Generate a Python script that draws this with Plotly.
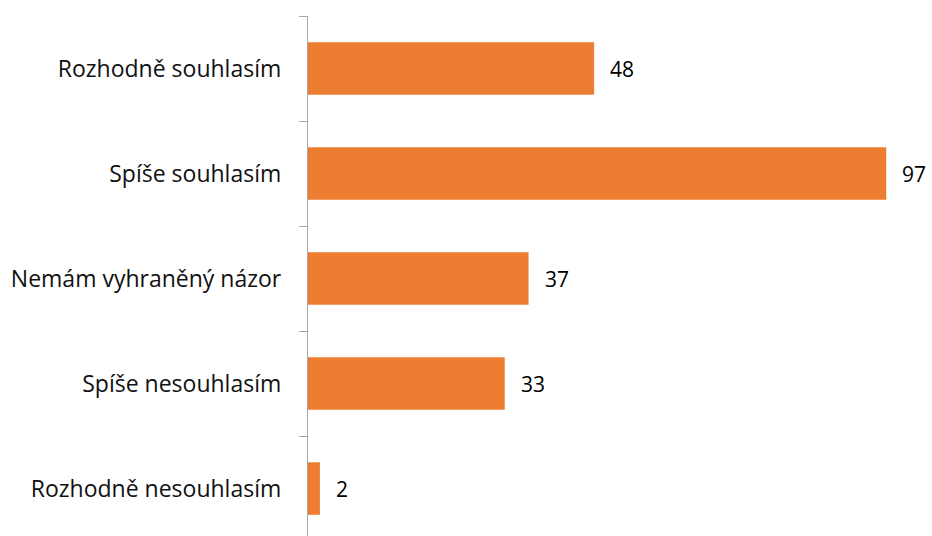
import plotly.graph_objects as go

categories = [
    "Rozhodně souhlasím",
    "Spíše souhlasím",
    "Nemám vyhraněný názor",
    "Spíše nesouhlasím",
    "Rozhodně nesouhlasím",
]
counts = [48, 97, 37, 33, 2]

bar_color = "#ED7D31"
font_family = "Open Sans, Noto Sans, sans-serif"

fig = go.Figure(
    go.Bar(
        y=categories,
        x=counts,
        orientation="h",
        width=0.5,
        marker=dict(color=bar_color, line=dict(width=0)),
        hoverinfo="skip",
    )
)

# value labels to the right of each bar
for cat, val in zip(categories, counts):
    fig.add_annotation(
        x=val, y=cat, text=str(val), showarrow=False,
        xanchor="left", xshift=14,
        font=dict(family=font_family, size=21, color="#000000"),
    )

fig.update_layout(
    width=932, height=536,
    margin=dict(l=308, r=10, t=16, b=0),
    paper_bgcolor="white", plot_bgcolor="white",
    showlegend=False,
    bargap=0.5,
)
fig.update_xaxes(visible=False, range=[0, 103])
fig.update_yaxes(
    range=[4.452, -0.5],
    showline=True, linecolor="#A6A6A6", linewidth=1.3,
    showgrid=False, zeroline=False,
    ticks="outside", tickson="boundaries", ticklen=8,
    tickcolor="#A6A6A6", tickwidth=1.3,
    ticklabelstandoff=21,
    tickfont=dict(family=font_family, size=23, color="#111111"),
)

fig.write_html("out.html")
